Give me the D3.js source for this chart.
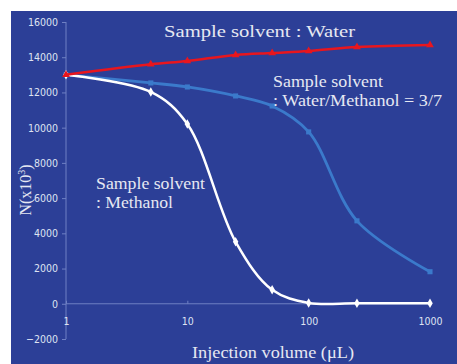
<!DOCTYPE html>
<html lang="en">
<head>
  <meta charset="UTF-8">
  <title>Injection volume</title>
  <style>
    body { margin: 0; background: #fff; }
    .tick text { font-family: "Liberation Sans Narrow", "DejaVu Sans Condensed", sans-serif; font-size: 10.5px; fill: #dfe3f2; }
    .note { font-family: "Liberation Serif", "DejaVu Serif", serif; fill: #e6e8f2; }
  </style>
</head>
<body>
  <div id="chart"></div>
  <script src="https://cdnjs.cloudflare.com/ajax/libs/d3/7.8.5/d3.min.js"></script>
  <script>
    const volumes = [1, 5, 10, 25, 50, 100, 250, 1000]
    const water = [13000, 13600, 13790, 14130, 14240, 14350, 14580, 14700]
    const mixed = [13000, 12540, 12310, 11800, 11230, 9760, 4710, 1820]
    const methanol = [13000, 12030, 10210, 3520, 790, 50, 30, 30]
    const yTicks = [-2000, 0, 2000, 4000, 6000, 8000, 10000, 12000, 14000, 16000]
    const xTicks = [1, 10, 100, 1000]

    const W = 457, H = 364
    const svg = d3.select('#chart').append('svg')
      .attr('width', W).attr('height', H)

    // blue panel
    svg.append('rect')
      .attr('x', 11).attr('y', 11)
      .attr('width', W - 11).attr('height', H - 11)
      .attr('fill', '#2c3f97')

    const x = d3.scaleLog().domain([1, 1000]).range([66, 430])
    const y = d3.scaleLinear().domain([-2000, 16000]).range([339, 22])

    const axisColor = '#6f80c4'

    // y axis
    const yAxis = svg.append('g')
      .attr('transform', `translate(${x(1)},0)`)
      .call(d3.axisLeft(y).tickValues(yTicks).tickSize(4).tickPadding(4).tickFormat(d3.format('d')))
    yAxis.selectAll('line, path').attr('stroke', axisColor)
    yAxis.select('.domain').attr('d', `M0,${y(-2000)}V${y(16000)}`)

    // x axis along zero
    const xAxis = svg.append('g')
      .attr('transform', `translate(0,${y(0)})`)
      .call(d3.axisTop(x).tickValues(xTicks).tickSize(3).tickFormat(d3.format('d')))
    xAxis.selectAll('line, path').attr('stroke', axisColor)
    xAxis.select('.domain').attr('d', `M${x(1)},0H${x(1000)}`)
    xAxis.selectAll('.tick text').attr('y', 21).attr('dy', 0)

    const line = d3.line()
      .x(d => x(d[0]))
      .y(d => y(d[1]))
      .curve(d3.curveCatmullRom.alpha(0.5))

    function series(vals, color, width, shape) {
      const pts = volumes.map((v, i) => [v, vals[i]])
      svg.append('path')
        .datum(pts)
        .attr('fill', 'none')
        .attr('stroke', color)
        .attr('stroke-width', width)
        .attr('d', line)
      svg.append('g').selectAll('path')
        .data(pts)
        .join('path')
        .attr('transform', d => `translate(${x(d[0])},${y(d[1])})`)
        .attr('d', d3.symbol().type(shape).size(26))
        .attr('fill', color)
    }

    series(mixed, '#3b7acb', 2.8, d3.symbolSquare)
    series(methanol, '#ffffff', 2.5, d3.symbolDiamond)
    series(water, '#e8161e', 2.5, d3.symbolTriangle)

    // annotations, stretched to the widths seen in the picture
    function note(tx, ty, size, len, str) {
      return svg.append('text').attr('class', 'note')
        .attr('x', tx).attr('y', ty).attr('font-size', size)
        .attr('textLength', len).attr('lengthAdjust', 'spacingAndGlyphs')
        .text(str)
    }
    note(164, 37, 16.5, 191, 'Sample solvent : Water')
    note(273, 87, 16, 110, 'Sample solvent')
    note(273, 106, 16, 169, ': Water/Methanol = 3/7')
    note(96, 189, 16, 109, 'Sample solvent')
    note(96, 208, 16, 77, ': Methanol')

    // axis titles
    note(192, 358, 16, 162, 'Injection volume (μL)')
    const yt = svg.append('text').attr('class', 'note')
      .attr('transform', 'translate(31,190) rotate(-90)')
      .attr('font-size', 16)
      .attr('text-anchor', 'middle')
    yt.append('tspan').text('N(x10')
    yt.append('tspan').attr('font-size', 10).attr('dy', -6).text('3')
    yt.append('tspan').attr('dy', 6).text(')')
  </script>
</body>
</html>
